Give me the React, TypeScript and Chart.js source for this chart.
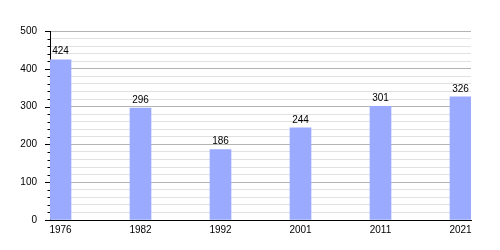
import React, { useEffect, useRef } from "react";
import { Chart, registerables } from "chart.js";

Chart.register(...registerables);

const years = ["1976", "1982", "1992", "2001", "2011", "2021"];
const population = [424, 296, 186, 244, 301, 326];
const yTickLabels = ["0", "100", "200", "300", "400", "500"];

const FONT = "'Liberation Sans', Arial, sans-serif";

export default function App() {
  const ref = useRef<HTMLCanvasElement | null>(null);

  useEffect(() => {
    if (!ref.current) return;
    const valueLabels = {
      id: "valueLabels",
      afterDatasetsDraw(chart: any) {
        const ctx = chart.ctx;
        const meta = chart.getDatasetMeta(0);
        ctx.save();
        ctx.font = `10px ${FONT}`;
        ctx.fillStyle = "#000";
        ctx.textAlign = "center";
        ctx.textBaseline = "bottom";
        meta.data.forEach((bar: any, i: number) => {
          ctx.fillText(String(population[i]), bar.x, bar.y - 3);
        });
        ctx.restore();
      },
    };
    const yTicks = {
      id: "yTicks",
      afterDraw(chart: any) {
        const ctx = chart.ctx;
        const y = chart.scales.y;
        const left = chart.chartArea.left;
        ctx.save();
        ctx.strokeStyle = "#000";
        ctx.lineWidth = 1;
        y.ticks.forEach((t: any) => {
          const py = Math.round(y.getPixelForValue(t.value)) + 0.5;
          const major = t.value % 100 === 0;
          ctx.beginPath();
          ctx.moveTo(left - (major ? 5 : 2.5), py);
          ctx.lineTo(left, py);
          ctx.stroke();
        });
        ctx.restore();
      },
    };
    const chart = new Chart(ref.current, {
      type: "bar",
      data: {
        datasets: [
          {
            data: population.map((v, i) => ({ x: i, y: v })),
            backgroundColor: "#99aaff",
            borderWidth: 0,
            barThickness: 21,
          },
        ],
      },
      options: {
        animation: false,
        responsive: false,
        maintainAspectRatio: false,
        devicePixelRatio: 1,
        layout: { padding: { left: 0, right: 29, top: 31, bottom: 0 } },
        plugins: { legend: { display: false }, tooltip: { enabled: false } },
        scales: {
          x: {
            type: "linear",
            offset: false,
            min: -0.13125,
            max: 5.13125,
            grid: { display: false, drawTicks: false },
            border: { display: true, color: "#000", width: 1 },
            ticks: {
              stepSize: 1,
              includeBounds: false,
              autoSkip: false,
              maxRotation: 0,
              padding: 4,
              color: "#000",
              font: { family: FONT, size: 10 },
              callback: (v: any) => (Number.isInteger(v) ? years[v] ?? "" : ""),
            },
            afterFit: (s: any) => {
              s.height = 30;
            },
          },
          y: {
            min: 0,
            max: 500,
            grid: {
              drawTicks: false,
              color: (c: any) =>
                c.tick && c.tick.value % 100 === 0 ? "#b4b4b4" : "#e2e2e2",
            },
            border: { display: true, color: "#000", width: 1 },
            ticks: {
              stepSize: 20,
              autoSkip: false,
              padding: 13,
              color: "#000",
              font: { family: FONT, size: 10 },
              callback: (v: any) =>
                v % 100 === 0 ? yTickLabels[v / 100] : "",
            },
            afterFit: (s: any) => {
              s.width = 50;
            },
          },
        },
      },
      plugins: [valueLabels, yTicks],
    });
    return () => chart.destroy();
  }, []);

  return (
    <div style={{ position: "fixed", left: 0, top: 0, width: 500, height: 250, background: "#fff" }}>
      <canvas ref={ref} width={500} height={250} style={{ width: 500, height: 250 }} />
    </div>
  );
}
